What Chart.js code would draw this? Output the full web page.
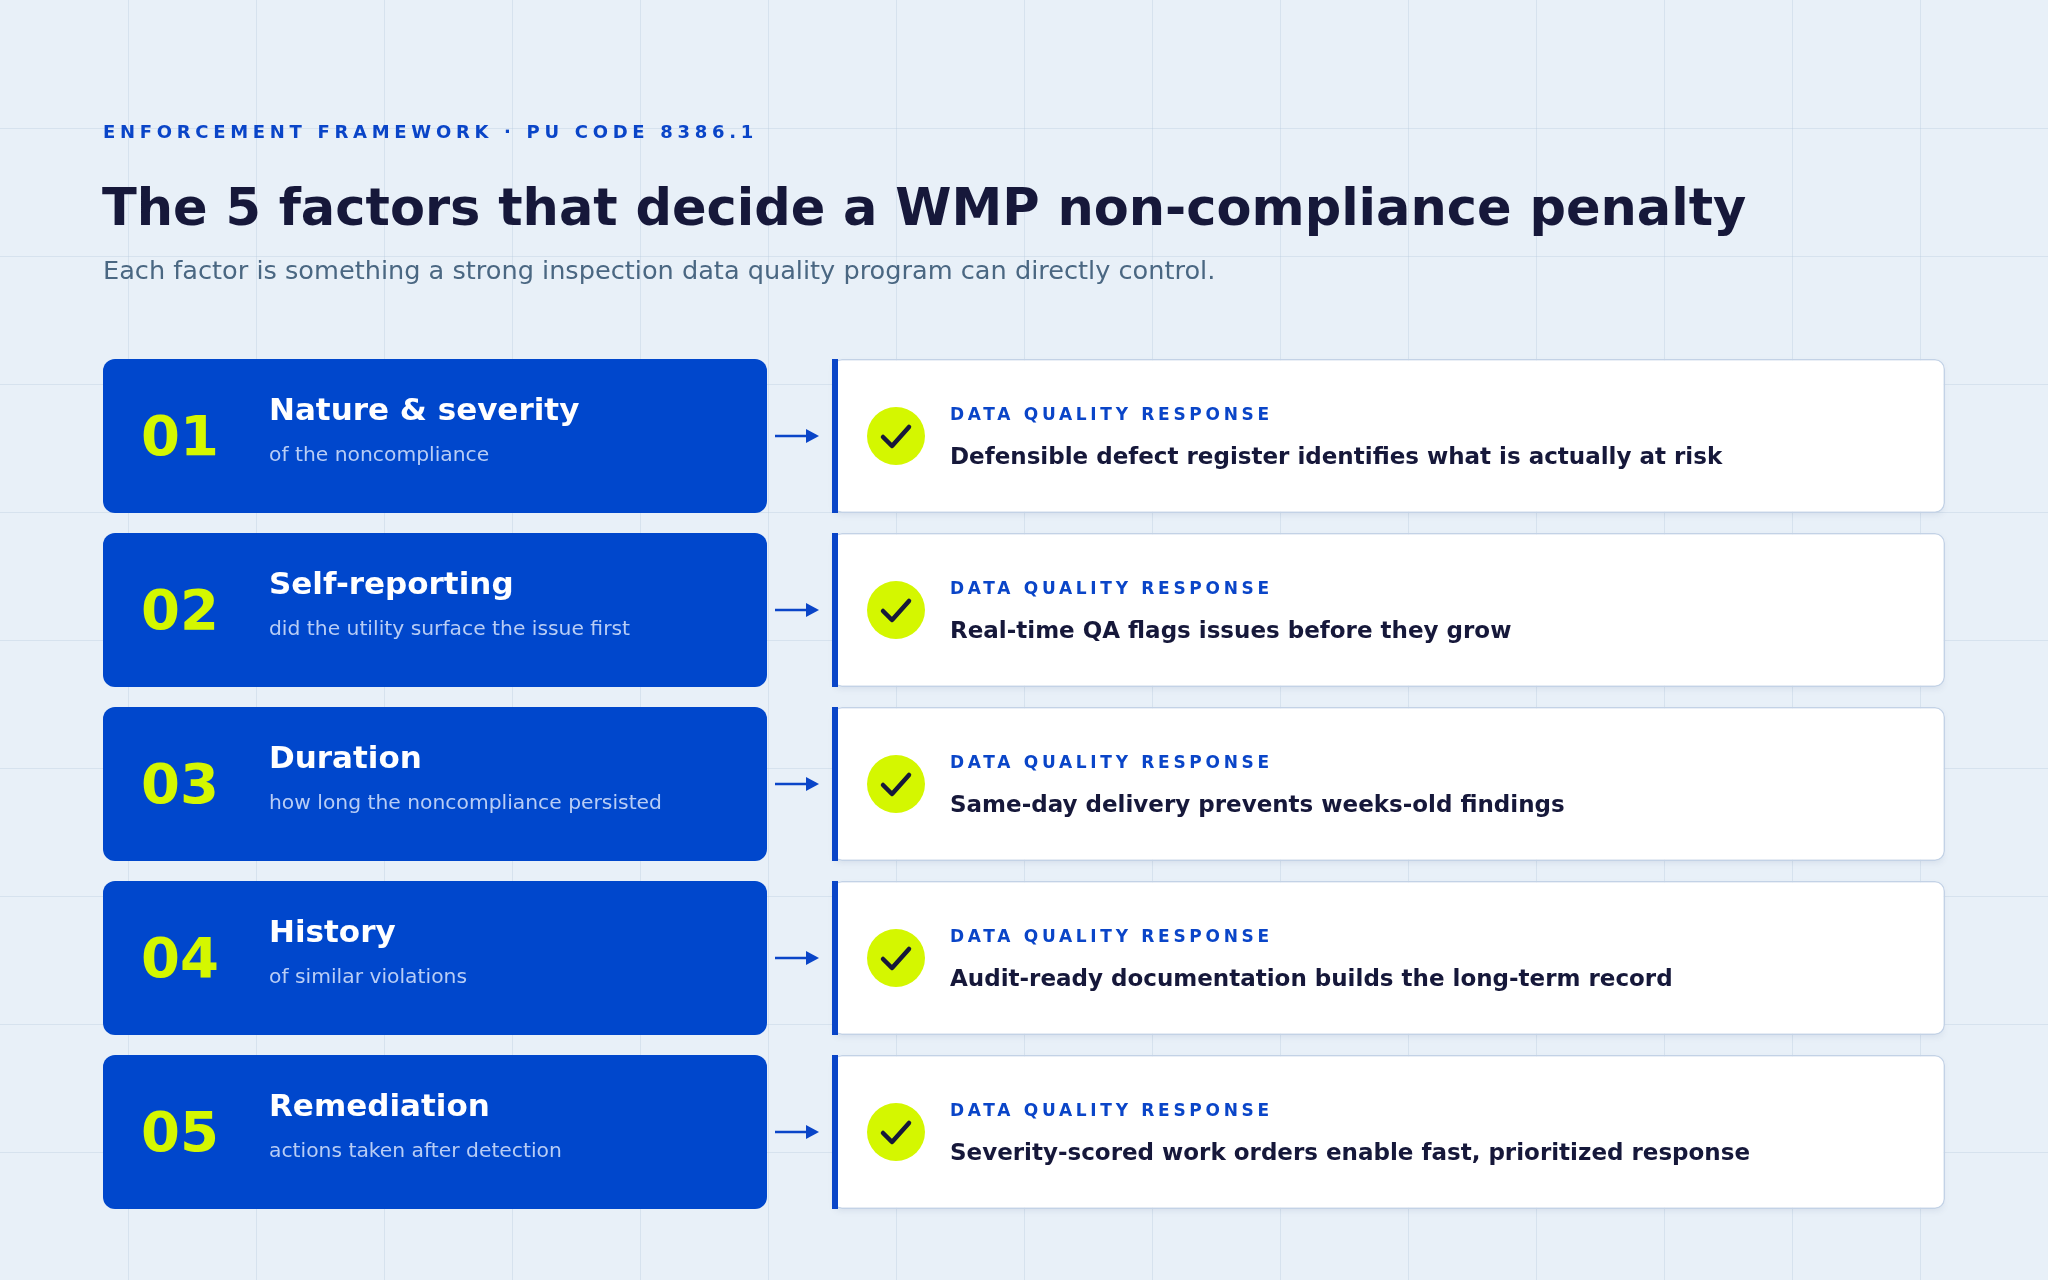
<!DOCTYPE html>
<html>
<head>
<meta charset="utf-8">
<script src="https://cdn.jsdelivr.net/npm/chart.js@4"></script>
<style>
  body { margin: 0; background: #e8f0f8; }
  canvas { display: block; }
</style>
</head>
<body>
<canvas id="factorsChartId" width="2048" height="1280"></canvas>
<script>
const numbers = ['01', '02', '03', '04', '05'];
const factors = ['Nature & severity', 'Self-reporting', 'Duration', 'History', 'Remediation'];
const factorNotes = ['of the noncompliance', 'did the utility surface the issue first', 'how long the noncompliance persisted', 'of similar violations', 'actions taken after detection'];
const responses = [
    'Defensible defect register identifies what is actually at risk',
    'Real-time QA flags issues before they grow',
    'Same-day delivery prevents weeks-old findings',
    'Audit-ready documentation builds the long-term record',
    'Severity-scored work orders enable fast, prioritized response'
];
const factorSpan = [0, 664];
const responseSpan = [729, 1842];

const FONT = '"DejaVu Sans", sans-serif';

const backdrop = {
    id: 'backdrop',
    beforeDraw(chart) {
        const ctx = chart.ctx;
        ctx.save();
        ctx.fillStyle = '#e8f0f8';
        ctx.fillRect(0, 0, chart.width, chart.height);
        ctx.strokeStyle = 'rgba(180,200,220,0.35)';
        ctx.lineWidth = 1;
        for (let x = 128; x < chart.width; x += 128) {
            ctx.beginPath(); ctx.moveTo(x + 0.5, 0); ctx.lineTo(x + 0.5, chart.height); ctx.stroke();
        }
        for (let y = 128; y < chart.height; y += 128) {
            ctx.beginPath(); ctx.moveTo(0, y + 0.5); ctx.lineTo(chart.width, y + 0.5); ctx.stroke();
        }
        ctx.textBaseline = 'middle';
        ctx.fillStyle = '#0a45c8';
        ctx.font = 'bold 18px ' + FONT;
        ctx.letterSpacing = '4.7px';
        ctx.fillText('ENFORCEMENT FRAMEWORK · PU CODE 8386.1', 103, 133);
        ctx.letterSpacing = '0px';
        ctx.fillStyle = '#16183a';
        ctx.font = 'bold 51px ' + FONT;
        ctx.fillText('The 5 factors that decide a WMP non-compliance penalty', 102, 212);
        ctx.fillStyle = '#4a6782';
        ctx.font = '25.6px ' + FONT;
        ctx.fillText('Each factor is something a strong inspection data quality program can directly control.', 103, 272);
        ctx.restore();
    }
};

const labels = {
    id: 'labels',
    beforeDatasetsDraw(chart) {
        const ctx = chart.ctx;
        ctx.save();
        ctx.shadowColor = 'rgba(20,40,90,0.12)';
        ctx.shadowBlur = 8;
        ctx.shadowOffsetY = 2;
        ctx.fillStyle = '#e8f0f8';
        chart.getDatasetMeta(1).data.forEach(bar => {
            const x0 = Math.min(bar.x, bar.base);
            ctx.fillRect(x0 + 4, bar.y - bar.height / 2 + 4, Math.abs(bar.x - bar.base) - 8, bar.height - 6);
        });
        ctx.restore();
    },
    afterDatasetsDraw(chart) {
        const ctx = chart.ctx;
        const left = chart.getDatasetMeta(0).data;
        const right = chart.getDatasetMeta(1).data;
        ctx.save();
        ctx.textBaseline = 'middle';
        left.forEach((bar, i) => {
            const top = bar.y - bar.height / 2;
            const x0 = Math.min(bar.x, bar.base);
            ctx.fillStyle = '#d4f700';
            ctx.font = 'bold 56px ' + FONT;
            ctx.fillText(numbers[i], x0 + 38, bar.y + 4);
            ctx.fillStyle = '#ffffff';
            ctx.font = 'bold 31px ' + FONT;
            ctx.fillText(factors[i], x0 + 166, top + 53);
            ctx.fillStyle = '#b8cdf5';
            ctx.font = '20.3px ' + FONT;
            ctx.fillText(factorNotes[i], x0 + 166, top + 97);

            // arrow
            const ax0 = bar.x + 8, ax1 = ax0 + 44;
            ctx.strokeStyle = '#0a45c8';
            ctx.fillStyle = '#0a45c8';
            ctx.lineWidth = 2.5;
            ctx.beginPath(); ctx.moveTo(ax0, bar.y); ctx.lineTo(ax1 - 8, bar.y); ctx.stroke();
            ctx.beginPath(); ctx.moveTo(ax1, bar.y); ctx.lineTo(ax1 - 13, bar.y - 7); ctx.lineTo(ax1 - 13, bar.y + 7); ctx.closePath(); ctx.fill();
        });
        right.forEach((bar, i) => {
            const top = bar.y - bar.height / 2;
            const x0 = Math.min(bar.x, bar.base);
            ctx.fillStyle = '#0a45c8';
            ctx.fillRect(x0, top, 6, bar.height);
            ctx.fillStyle = '#d4f700';
            ctx.beginPath(); ctx.arc(x0 + 64, bar.y, 29, 0, Math.PI * 2); ctx.fill();
            ctx.strokeStyle = '#16183a';
            ctx.lineWidth = 4.5;
            ctx.lineCap = 'round';
            ctx.lineJoin = 'round';
            ctx.beginPath();
            ctx.moveTo(x0 + 51, bar.y + 1);
            ctx.lineTo(x0 + 60, bar.y + 10);
            ctx.lineTo(x0 + 77, bar.y - 9);
            ctx.stroke();
            ctx.fillStyle = '#0a45c8';
            ctx.font = 'bold 17px ' + FONT;
            ctx.letterSpacing = '3.7px';
            ctx.fillText('DATA QUALITY RESPONSE', x0 + 118, top + 57);
            ctx.letterSpacing = '0px';
            ctx.fillStyle = '#16183a';
            ctx.font = 'bold 23px ' + FONT;
            ctx.fillText(responses[i], x0 + 118, top + 99);
        });
        ctx.restore();
    }
};

const ctx = document.getElementById('factorsChartId');

new Chart(ctx, {
    type: 'bar',
    data: {
        labels: numbers,
        datasets: [
            {
                label: 'Factor',
                data: numbers.map(() => factorSpan),
                backgroundColor: '#0047cc',
                borderRadius: 12,
                borderSkipped: false,
                barPercentage: 0.885,
                categoryPercentage: 1
            },
            {
                label: 'Response',
                data: numbers.map(() => responseSpan),
                backgroundColor: '#ffffff',
                borderColor: '#c3d2e6',
                borderWidth: 1.5,
                borderRadius: 10,
                borderSkipped: false,
                barPercentage: 0.885,
                categoryPercentage: 1
            }
        ]
    },
    options: {
        indexAxis: 'y',
        responsive: false,
        animation: false,
        layout: { padding: { left: 103, right: 103, top: 349, bottom: 61 } },
        plugins: { legend: { display: false }, tooltip: { enabled: false } },
        datasets: { bar: { grouped: false } },
        scales: {
            x: { display: false, min: 0, max: 1842 },
            y: { display: false }
        }
    },
    plugins: [backdrop, labels]
});
</script>
</body>
</html>
